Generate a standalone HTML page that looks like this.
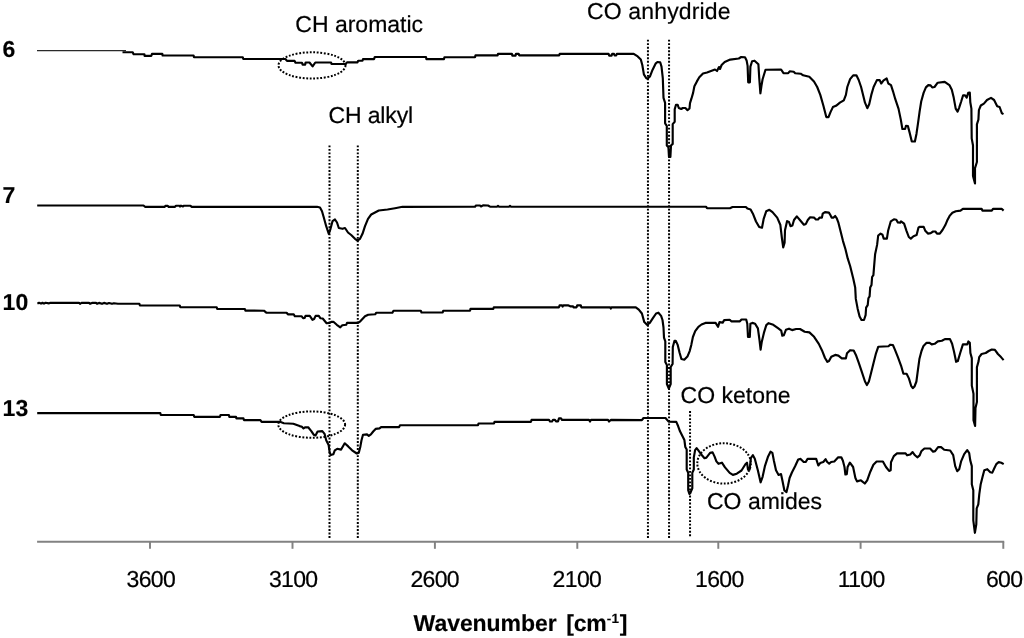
<!DOCTYPE html>
<html lang="en">
<head>
<meta charset="utf-8">
<title>IR spectra</title>
<style>html,body{margin:0;padding:0;background:#fff}body{width:1024px;height:638px;overflow:hidden}svg{display:block}</style>
</head>
<body>
<svg width="1024" height="638" viewBox="0 0 1024 638">
<rect width="1024" height="638" fill="#fff"/>
<g stroke="#828282" stroke-width="1.95" fill="none">
<path d="M37.1,541.65 H1004.2"/>
<path d="M150,541.65 V548.8"/>
<path d="M292.5,541.65 V548.8"/>
<path d="M434.9,541.65 V548.8"/>
<path d="M577.3,541.65 V548.8"/>
<path d="M718.3,541.65 V548.8"/>
<path d="M860.6,541.65 V548.8"/>
<path d="M1003.3,541.65 V548.8"/>
</g>
<g stroke="#000" stroke-width="2" stroke-dasharray="1.85 1.67" fill="none">
<path d="M329.5,145.4 V538.3"/>
<path d="M357.8,145.4 V538.3"/>
<path d="M647.95,39.75 V538.3"/>
<path d="M669.05,39.75 V538.3"/>
<path d="M690.05,411.1 V537.5"/>
<ellipse cx="312" cy="65.4" rx="33.5" ry="13.1"/>
<ellipse cx="311.7" cy="424.6" rx="33.4" ry="13.2"/>
<ellipse cx="724.05" cy="463.4" rx="26.75" ry="20.2"/>
</g>
<g stroke="#000" stroke-width="2.15" fill="none" stroke-linejoin="round" stroke-linecap="butt">
<path d="M122.5,52.2 L132.7,52.2 L133.6,54.2 L144.4,54.2 L144.6,55.8 L151.4,55.8 L152.0,53.8 L162.3,53.8 L162.6,55.5 L193.6,55.5 L194.0,57.2 L242.8,57.2 L243.3,59.0 L283.0,59.0 L285.4,59.0 L287.0,60.9 L294.6,60.9 L295.5,62.7 L302.0,62.7 L302.6,64.6 L305.2,64.6 L305.6,62.5 L309.5,62.5 L312.6,66.4 L315.3,62.5 L331.1,62.5 L331.5,64.0 L345.6,64.0 L347.0,62.4 L357.5,62.4 L358.2,60.7 L362.5,60.7 L363.0,59.1 L374.0,59.1 L374.8,57.0 L426.0,57.0 L426.4,59.1 L444.0,59.1 L444.4,57.2 L475.0,57.2 L475.5,55.4 L497.6,55.4 L498.0,53.8 L511.9,53.8 L512.3,55.6 L515.6,55.6 L516.0,53.8 L518.7,53.8 L519.1,55.3 L559.3,55.3 L559.7,53.8 L608.6,53.8 L609.2,55.6 L611.6,55.6 L612.2,53.8 L614.0,53.8 L614.6,55.5 L616.2,55.5 L616.8,53.8 L633.7,53.8 L637.7,56.4 L640.8,59.5 L642.3,65.0 L643.9,74.4 L646.3,78.3 L647.5,78.6 L650.0,76.4 L652.5,69.9 L655.8,63.3 L657.4,62.0 L660.2,62.3 L661.5,66.6 L662.8,78.1 L663.5,97.8 L665.1,102.8 L665.1,123.3 L666.8,125.8 L666.8,145.5 L668.4,147.2 L669.0,157.0 L670.4,157.0 L671.0,145.5 L672.7,143.9 L672.7,124.1 L674.7,121.7 L674.7,109.3 L676.0,104.7 L677.6,104.7 L678.8,108.0 L681.2,109.0 L682.9,108.0 L685.4,108.0 L687.5,110.2 L689.5,108.5 L690.0,103.1 L691.4,98.7 L693.1,92.9 L694.4,86.3 L696.9,81.4 L699.3,77.3 L703.0,73.5 L707.0,72.5 L711.0,71.0 L715.0,69.5 L717.0,71.0 L719.0,67.0 L720.0,69.0 L721.6,65.0 L724.7,62.0 L730.2,59.6 L738.8,58.5 L741.2,57.0 L745.0,57.2 L746.6,60.4 L747.6,65.9 L748.2,82.3 L749.9,82.3 L750.4,66.6 L752.1,61.2 L754.5,60.7 L758.4,64.3 L759.2,77.6 L760.4,93.3 L761.5,85.5 L762.6,79.2 L765.5,69.8 L781.1,69.5 L783.5,73.2 L788.2,73.2 L789.7,71.3 L793.7,71.7 L795.2,73.2 L800.7,73.7 L803.1,75.3 L809.3,76.8 L814.0,81.5 L817.2,87.0 L820.3,94.9 L823.4,105.8 L826.3,117.1 L828.5,117.1 L830.5,112.1 L832.9,107.1 L836.0,105.8 L839.9,102.7 L843.8,100.3 L845.9,94.9 L847.3,87.0 L850.1,79.2 L853.2,75.3 L856.4,75.3 L858.7,80.0 L861.1,87.0 L865.0,102.7 L867.3,108.2 L869.2,104.3 L871.3,94.9 L873.6,87.0 L876.9,80.1 L879.7,80.1 L881.2,83.5 L883.6,80.4 L886.7,78.5 L888.3,83.5 L891.0,85.1 L893.0,91.3 L895.3,99.2 L898.5,108.6 L900.8,119.6 L902.4,129.0 L905.1,129.0 L906.0,125.8 L907.9,126.1 L909.5,132.1 L911.8,141.5 L914.9,141.5 L916.5,133.7 L918.1,122.7 L919.6,111.7 L921.2,101.5 L923.6,92.9 L925.9,87.4 L928.3,85.1 L930.6,85.4 L932.2,87.4 L934.5,87.0 L937.7,82.7 L944.7,81.9 L949.4,85.1 L951.8,89.8 L953.7,97.6 L955.7,108.6 L957.6,111.7 L959.1,107.8 L961.2,101.5 L963.1,95.3 L965.1,95.3 L966.7,97.6 L968.2,92.9 L969.8,92.6 L970.3,102.3 L971.4,108.6 L971.7,138.4 L973.0,145.5 L973.0,176.0 L975.0,183.5 L975.0,168.2 L976.9,162.0 L976.9,124.3 L978.4,119.6 L978.9,110.2 L980.8,105.5 L983.9,103.6 L987.0,100.0 L991.0,97.9 L994.1,100.0 L997.2,106.2 L999.6,107.0 L1001.9,113.3 L1003.5,114.1"/>
<path d="M37.2,205.5 L143.5,205.5 L145.0,206.8 L164.8,206.8 L165.4,205.8 L167.8,205.8 L168.4,206.8 L175.0,206.8 L176.0,205.7 L179.5,205.7 L180.0,206.5 L181.0,205.7 L183.0,206.5 L184.0,205.7 L190.5,205.7 L191.5,206.8 L317.0,206.8 L320.0,207.5 L322.0,211.2 L323.8,217.5 L326.2,226.2 L328.8,233.8 L330.5,228.8 L332.5,221.2 L335.0,219.5 L337.0,222.5 L338.8,228.0 L342.5,228.8 L345.0,228.0 L348.0,232.5 L351.2,235.0 L355.0,238.8 L357.5,240.5 L360.0,238.8 L362.5,233.8 L365.0,226.2 L368.0,218.8 L371.2,214.5 L375.0,212.5 L378.8,210.5 L387.5,209.5 L395.0,208.2 L402.5,206.8 L475.0,206.7 L476.0,205.5 L480.0,205.5 L481.0,206.5 L483.0,205.3 L488.0,205.5 L490.0,206.7 L497.0,206.7 L498.0,205.8 L499.0,206.7 L509.0,206.7 L510.0,205.8 L511.0,206.7 L706.0,206.7 L707.0,208.2 L730.0,208.2 L732.5,207.0 L745.9,207.0 L747.4,208.5 L750.6,209.5 L752.9,213.7 L756.0,221.5 L759.2,227.0 L762.0,227.8 L763.6,219.2 L766.2,211.3 L769.4,209.8 L772.5,212.1 L777.2,217.6 L780.3,224.7 L781.9,238.0 L783.2,247.4 L784.6,242.7 L785.0,230.2 L787.1,221.1 L789.0,222.0 L790.5,226.2 L792.4,225.5 L794.0,220.0 L796.8,216.4 L799.9,220.0 L803.9,224.7 L805.9,223.9 L807.8,220.0 L810.1,217.3 L814.0,217.6 L815.9,219.5 L818.0,219.5 L819.5,217.6 L821.9,217.6 L822.7,213.7 L825.0,212.1 L828.9,212.6 L830.5,215.3 L831.6,217.6 L833.6,217.6 L835.2,216.0 L836.8,218.4 L838.3,222.3 L840.7,231.7 L843.0,241.1 L845.4,249.0 L847.7,258.4 L850.2,266.3 L853.3,278.8 L855.2,287.6 L855.8,298.9 L857.7,308.9 L859.6,316.5 L861.5,320.0 L864.0,320.0 L865.6,315.2 L866.1,307.7 L867.7,305.2 L868.4,298.3 L869.6,296.4 L870.2,287.6 L871.5,285.1 L872.1,277.0 L873.4,275.1 L874.0,267.6 L875.1,254.3 L877.1,244.9 L878.2,235.5 L880.6,233.6 L882.5,234.7 L883.7,238.6 L886.9,238.6 L888.1,230.8 L890.8,221.3 L893.9,219.3 L896.3,219.8 L897.8,222.4 L900.2,222.6 L901.0,221.3 L904.1,223.7 L906.5,230.8 L908.8,237.0 L910.8,238.6 L913.5,236.2 L916.6,235.1 L918.5,227.6 L919.5,226.8 L923.7,226.8 L925.3,230.8 L927.9,233.6 L930.7,233.1 L933.1,231.5 L935.4,231.5 L937.0,233.6 L939.8,233.6 L942.5,230.0 L945.2,225.3 L947.2,220.6 L949.6,215.9 L952.4,212.7 L955.8,211.2 L960.5,210.6 L962.9,208.8 L981.6,208.8 L982.4,210.6 L991.8,210.6 L993.0,208.8 L1001.6,208.8 L1003.6,210.6"/>
<path d="M37.4,303.6 L39.0,302.8 L41.0,303.6 L42.5,302.8 L44.0,303.6 L45.5,302.8 L49.0,303.4 L50.0,302.8 L79.0,302.8 L80.0,303.8 L81.5,302.9 L89.0,302.9 L90.0,303.8 L92.0,302.9 L96.0,302.9 L97.0,303.8 L99.0,302.9 L102.0,303.8 L104.0,302.9 L107.0,303.8 L109.0,303.0 L112.0,303.8 L114.0,303.2 L117.9,303.7 L139.4,303.7 L139.9,305.5 L179.8,305.5 L180.3,307.2 L216.7,307.2 L217.2,309.0 L244.9,309.0 L245.4,310.6 L263.9,310.7 L266.3,312.7 L286.6,312.7 L287.9,314.3 L293.7,314.3 L294.8,316.2 L301.5,316.2 L303.1,318.2 L304.7,317.9 L305.5,315.9 L309.8,315.9 L312.5,319.8 L314.1,319.0 L315.6,315.9 L318.8,315.9 L320.3,318.2 L322.7,318.5 L326.6,323.2 L329.7,322.9 L331.3,321.8 L333.4,321.8 L336.8,324.8 L340.3,327.3 L342.3,325.3 L346.2,324.8 L347.0,322.9 L358.0,322.9 L360.3,321.3 L365.0,316.3 L368.2,314.8 L375.2,314.3 L376.3,312.7 L392.4,312.7 L393.5,310.7 L420.8,310.7 L421.5,312.5 L442.7,312.5 L443.2,310.7 L470.0,310.7 L470.5,308.9 L493.3,308.9 L493.8,307.3 L559.0,307.3 L559.6,305.3 L562.0,305.3 L562.6,306.6 L563.4,305.3 L568.0,305.3 L570.2,306.3 L573.0,306.3 L573.5,307.3 L576.6,307.3 L577.2,305.3 L580.8,305.3 L581.3,307.3 L610.2,307.3 L610.8,308.7 L611.4,307.3 L635.8,307.3 L638.8,309.6 L641.9,313.5 L644.3,322.1 L647.0,324.8 L649.8,322.9 L652.9,318.2 L656.1,313.5 L658.4,312.7 L661.1,315.9 L662.5,320.0 L663.5,327.5 L664.0,337.6 L665.3,341.3 L665.3,362.0 L666.9,365.1 L666.9,384.0 L668.8,388.5 L670.7,384.0 L670.7,367.0 L672.6,363.9 L672.8,347.0 L674.5,340.7 L675.7,340.7 L677.7,344.9 L679.6,352.7 L681.4,359.0 L684.3,359.7 L687.4,356.6 L689.7,351.1 L691.3,344.9 L692.9,337.0 L695.2,331.1 L698.4,326.8 L701.5,324.5 L705.4,322.9 L715.6,322.9 L718.0,326.8 L719.5,322.1 L722.7,322.6 L724.2,320.1 L729.7,319.8 L731.3,321.3 L739.9,321.3 L741.5,319.5 L746.2,319.5 L747.3,323.7 L748.0,337.0 L749.8,337.0 L750.4,323.7 L752.4,322.9 L755.1,323.7 L757.9,328.4 L759.5,340.2 L760.6,349.6 L761.8,341.7 L763.9,332.9 L766.3,325.1 L768.6,323.2 L773.3,324.8 L778.0,328.2 L781.2,330.6 L782.3,335.7 L783.8,335.3 L785.9,329.8 L789.0,328.7 L792.1,330.1 L796.1,329.0 L800.0,329.0 L804.7,331.7 L809.4,332.4 L814.1,336.8 L818.8,343.9 L821.9,350.2 L825.0,358.0 L827.4,361.9 L829.0,361.1 L831.3,356.7 L835.2,354.9 L838.4,355.6 L841.8,358.3 L845.9,358.3 L847.0,353.3 L850.1,350.2 L853.7,350.5 L855.9,354.9 L858.7,362.7 L861.9,372.1 L865.0,381.5 L866.9,385.0 L868.9,381.5 L871.3,372.1 L873.6,362.7 L876.0,353.3 L878.3,346.7 L888.5,346.2 L890.1,344.7 L892.9,345.0 L894.8,349.4 L897.9,357.2 L901.1,365.8 L903.4,373.7 L906.6,373.7 L908.9,378.4 L911.3,386.2 L912.8,388.1 L914.5,386.5 L916.4,381.5 L918.0,369.3 L919.4,359.1 L921.5,351.0 L923.5,345.9 L926.6,342.8 L929.6,342.8 L931.7,344.4 L934.7,343.8 L937.8,341.4 L941.9,340.8 L944.9,339.1 L950.0,339.1 L952.1,343.8 L954.1,352.0 L956.1,361.8 L957.8,361.1 L960.2,353.0 L962.9,344.4 L967.3,344.4 L968.4,341.4 L969.8,342.8 L970.4,353.0 L971.8,358.1 L971.8,385.6 L973.5,393.8 L973.5,420.3 L975.1,426.0 L975.5,408.0 L976.9,401.9 L976.9,367.3 L978.6,361.1 L979.2,357.1 L981.6,354.0 L985.7,353.0 L988.7,351.0 L991.8,349.5 L994.9,349.9 L997.9,354.0 L1001.0,357.1 L1003.6,360.1"/>
<path d="M37.2,413.1 L160.3,413.1 L160.8,415.0 L193.7,415.0 L194.2,416.8 L220.0,416.8 L220.5,415.0 L228.9,415.0 L229.3,416.8 L236.0,416.8 L236.4,418.4 L243.5,418.4 L243.9,420.1 L260.4,420.1 L261.6,421.8 L280.0,421.8 L283.9,423.2 L293.3,423.7 L299.6,426.1 L301.9,426.8 L303.5,428.4 L305.0,427.3 L308.2,427.3 L311.3,431.1 L313.7,434.7 L315.5,435.5 L317.6,431.5 L322.3,431.1 L324.6,433.9 L326.2,440.2 L328.6,444.9 L329.7,452.7 L330.9,455.0 L333.3,454.3 L334.8,450.3 L337.2,448.8 L341.1,449.6 L342.7,446.7 L344.7,443.3 L348.2,446.4 L352.1,450.3 L356.8,453.5 L358.8,452.7 L360.4,446.4 L361.5,440.2 L363.0,434.7 L367.0,434.4 L368.8,435.9 L370.9,434.4 L373.2,431.5 L375.6,428.9 L379.5,428.4 L381.1,427.1 L399.1,427.1 L400.0,425.2 L478.0,425.2 L478.5,423.5 L494.0,423.5 L494.5,421.8 L531.0,421.8 L531.5,419.9 L549.0,419.9 L550.0,421.5 L552.0,421.5 L553.0,419.9 L555.0,419.9 L556.0,421.3 L558.0,421.3 L559.0,418.3 L561.0,418.3 L562.0,419.9 L589.0,419.9 L590.0,421.5 L591.0,419.9 L608.0,419.9 L609.0,421.5 L611.0,419.9 L641.9,420.1 L643.5,418.0 L665.5,418.0 L668.6,421.6 L676.3,421.9 L678.2,426.3 L680.0,431.3 L682.5,436.3 L684.4,440.1 L685.3,447.0 L686.7,449.5 L686.7,469.5 L688.2,472.7 L688.2,490.2 L689.4,494.0 L690.3,493.0 L692.3,488.3 L692.3,472.7 L693.8,469.5 L693.8,457.6 L695.1,450.1 L696.6,448.2 L698.2,450.1 L701.3,454.5 L704.5,458.2 L706.4,457.6 L710.1,452.9 L712.6,452.4 L714.5,456.4 L716.4,461.4 L718.5,463.8 L721.9,462.7 L725.0,467.4 L729.7,472.9 L732.9,474.9 L736.8,473.7 L741.5,470.5 L745.4,464.3 L747.0,462.7 L748.0,469.7 L749.6,469.7 L750.9,458.0 L752.9,455.2 L754.8,458.8 L757.9,470.5 L760.6,482.3 L762.6,476.8 L765.0,465.8 L768.1,456.4 L770.5,451.7 L772.4,452.9 L773.9,460.8 L776.0,470.2 L778.6,474.9 L781.0,474.1 L782.5,481.1 L784.4,490.5 L786.5,492.1 L788.0,485.8 L789.6,478.0 L791.9,472.5 L795.1,466.2 L798.2,459.5 L800.6,458.9 L803.7,462.0 L805.7,462.0 L807.6,458.9 L816.2,458.9 L818.3,465.5 L820.2,463.1 L823.3,462.0 L825.6,459.2 L827.2,462.0 L829.2,463.6 L831.1,462.0 L834.3,461.5 L838.2,457.3 L841.3,457.3 L842.9,460.8 L844.5,467.0 L845.4,474.5 L846.8,474.1 L847.6,467.0 L849.9,462.6 L853.1,467.0 L855.4,478.0 L857.0,481.4 L860.9,480.3 L864.8,483.5 L867.2,480.3 L870.3,471.7 L873.4,464.7 L876.6,461.5 L882.9,461.5 L886.0,467.0 L889.1,470.9 L890.7,470.2 L891.0,462.3 L893.8,456.1 L897.0,453.4 L905.6,453.4 L907.1,455.3 L910.3,454.5 L912.6,452.1 L915.0,455.3 L917.3,457.3 L919.7,455.3 L921.3,451.3 L924.4,448.5 L930.1,448.5 L933.1,451.7 L935.1,451.1 L938.1,447.1 L941.1,447.1 L944.2,449.7 L950.2,450.5 L953.2,455.1 L955.2,466.1 L957.2,471.2 L959.2,469.2 L961.2,461.1 L964.2,454.1 L967.2,450.1 L969.2,453.1 L970.2,460.1 L971.8,466.1 L971.8,484.2 L973.3,490.2 L973.3,520.3 L974.9,532.8 L976.3,524.3 L976.7,508.3 L978.3,504.3 L979.3,494.2 L980.7,484.2 L982.7,476.2 L984.3,470.2 L987.3,469.2 L990.3,472.2 L992.3,472.6 L994.3,468.2 L996.3,464.1 L998.7,462.1 L1001.3,462.7 L1003.7,464.1"/>
</g>
<path d="M37,50.6 H126" stroke="#2a2a2a" stroke-width="1.1" fill="none"/>
<g font-family="'Liberation Sans', Arial, sans-serif" fill="#000">
<g font-size="23px" stroke="#000" stroke-width="0.2" text-rendering="geometricPrecision">
<text x="295.3" y="32">CH aromatic</text>
<text x="328.4" y="123.3" letter-spacing="-0.12">CH alkyl</text>
<text x="587.1" y="18.6" letter-spacing="0.13">CO anhydride</text>
<text x="680.6" y="403">CO ketone</text>
<text x="707" y="509.2">CO amides</text>
<text x="150.8" y="587" text-anchor="middle" letter-spacing="-0.65">3600</text>
<text x="293.2" y="587" text-anchor="middle" letter-spacing="-0.65">3100</text>
<text x="434.7" y="587" text-anchor="middle" letter-spacing="-0.65">2600</text>
<text x="576.9" y="587" text-anchor="middle" letter-spacing="-0.65">2100</text>
<text x="719.3" y="587" text-anchor="middle" letter-spacing="-0.65">1600</text>
<text x="861.2" y="587" text-anchor="middle" letter-spacing="-0.65">1100</text>
<text x="1004.1" y="587" text-anchor="middle" letter-spacing="-0.65">600</text>
</g>
<g font-size="23px" font-weight="bold" stroke="#000" stroke-width="0.15" text-rendering="geometricPrecision">
<text x="2.6" y="56.8">6</text>
<text x="2.6" y="203.3">7</text>
<text x="2.6" y="309.95">10</text>
<text x="2.6" y="415.95">13</text>
</g>
<g font-size="23px" font-weight="bold" stroke="#000" stroke-width="0.15" text-rendering="geometricPrecision">
<text y="630.8"><tspan x="413.6" letter-spacing="-0.05">Wavenumber </tspan><tspan x="566.3" letter-spacing="-0.3">[cm</tspan><tspan font-size="13.5px" dy="-8.2" dx="0.5" letter-spacing="0.3">-1</tspan><tspan dy="8.2" dx="0.2">]</tspan></text>
</g>
</g>
</svg>
</body>
</html>
